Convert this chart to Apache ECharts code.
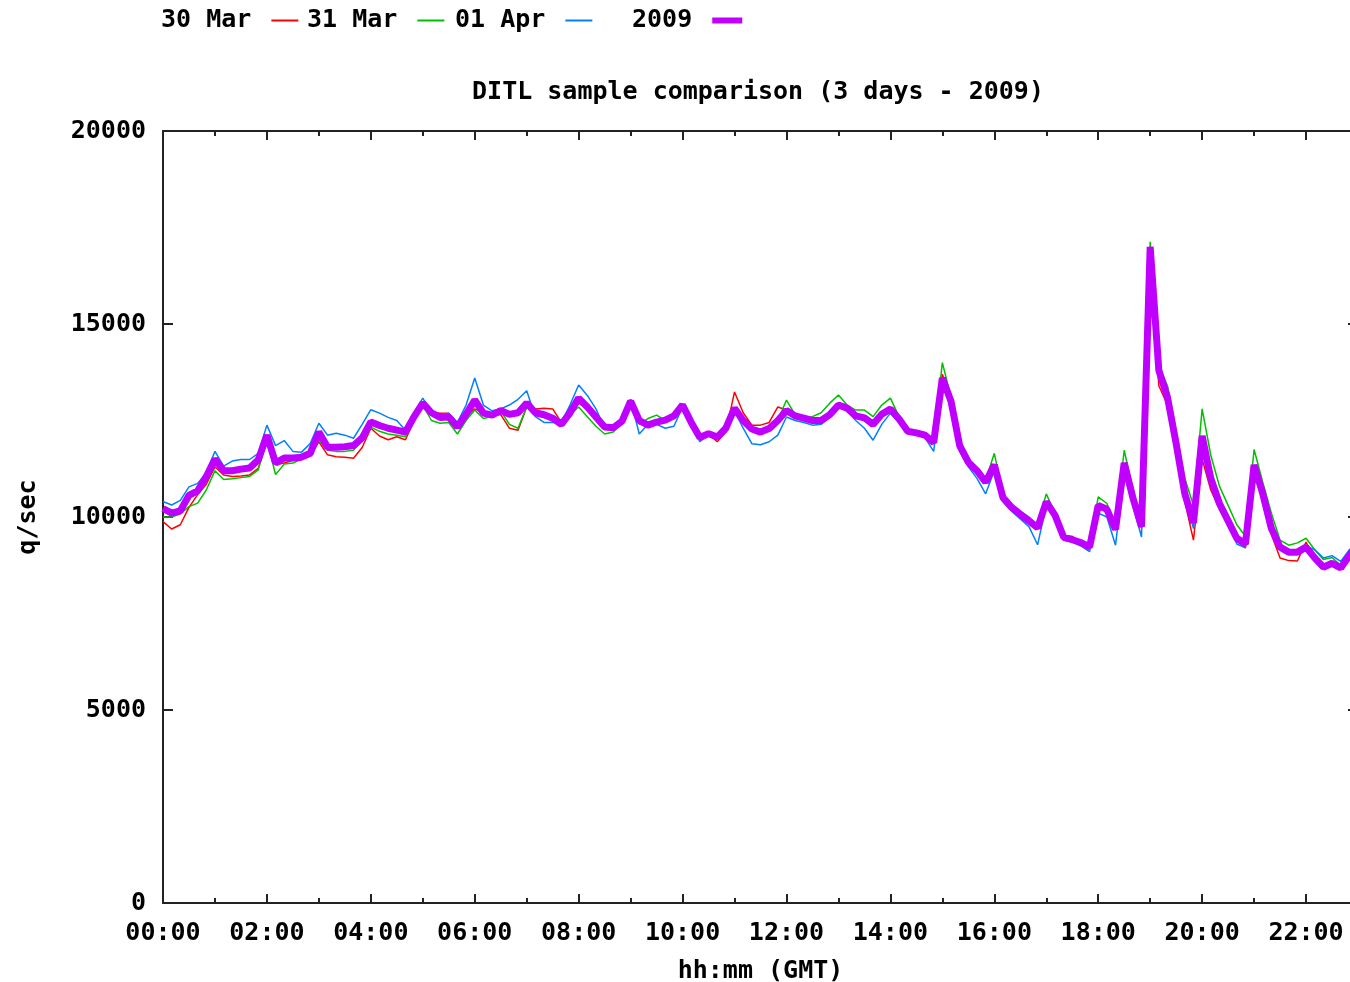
<!DOCTYPE html>
<html>
<head>
<meta charset="utf-8">
<title>DITL sample comparison</title>
<script src="https://cdn.jsdelivr.net/npm/echarts@6.0.0/dist/echarts.min.js"></script>
<style>
  html, body { margin: 0; padding: 0; background: #ffffff; }
  #chart { width: 1350px; height: 982px; }
</style>
</head>
<body>
<div id="chart"></div>
<script>
// Sampling grid: one sample every 10 minutes starting at 00:00 GMT
const SAMPLE_STEP_MIN = 10;
const SAMPLE_COUNT = 139;

// Query rate (q/sec) per sample, one array per day
const day30Mar = [
  9880, 9690, 9800, 10250, 10580, 10850, 11300, 11090, 11050, 11060,
  11090, 11260, 11990, 11350, 11400, 11470, 11510, 11600, 11950, 11610,
  11560, 11550, 11520, 11800, 12300, 12100, 12000, 12080, 12000, 12500,
  12950, 12720, 12690, 12690, 12400, 12600, 12800, 12700, 12650, 12650,
  12300, 12250, 12850, 12800, 12820, 12800, 12450, 12700, 12950, 12800,
  12550, 12300, 12300, 12450, 13050, 12450, 12400, 12500, 12550, 12650,
  12900, 12450, 12000, 12150, 11950, 12200, 13240, 12700, 12380, 12380,
  12450, 12850, 12770, 12600, 12550, 12500, 12550, 12700, 12950, 12800,
  12600, 12600, 12450, 12700, 12850, 12550, 12200, 12180, 12100, 11900,
  13700, 13000, 11850, 11450, 11250, 11000, 11300, 10500, 10250, 10070,
  9900, 9700, 10380, 10050, 9500, 9500, 9350, 9200, 10300, 10150,
  9650, 11300, 10400, 9700, 16900, 13400, 12900, 11800, 10400, 9400,
  11500, 10700, 10200, 9800, 9400, 9200, 11300, 10500, 9550, 8940,
  8870, 8860, 9350, 8900, 8700, 8800, 8700, 9000, 9300
];

const day31Mar = [
  10000, 10000, 10080, 10270, 10360, 10700, 11200, 10970, 10990, 11020,
  11050, 11220, 11990, 11100, 11370, 11400, 11500, 11600, 11990, 11730,
  11700, 11700, 11730, 12000, 12330, 12220, 12150, 12120, 12080, 12500,
  12900, 12500, 12430, 12450, 12150, 12500, 12770, 12550, 12600, 12750,
  12400, 12300, 12850, 12650, 12600, 12500, 12350, 12650, 12850, 12600,
  12350, 12150, 12200, 12450, 13000, 12400, 12550, 12640, 12500, 12600,
  12900, 12500, 12050, 12200, 12100, 12300, 12700, 12450, 12300, 12250,
  12300, 12500, 13030, 12650, 12550, 12600, 12700, 12950, 13160, 12900,
  12770, 12770, 12600, 12900, 13080, 12600, 12250, 12180, 12100, 11950,
  14000, 13100, 11900, 11450, 11250, 10950, 11650, 10600, 10300, 10150,
  10000, 9800, 10600, 10100, 9550, 9450, 9400, 9250, 10520, 10350,
  9800, 11730, 10700, 9900, 17130, 13900, 13400, 12200, 11000, 10300,
  12800, 11600, 10800, 10300, 9800, 9500, 11750, 10900, 10100, 9400,
  9270, 9330, 9450, 9150, 8900, 8950, 8750, 9100, 9350
];

const day01Apr = [
  10400, 10310, 10430, 10780, 10870, 11150, 11700, 11320, 11450, 11490,
  11490, 11650, 12380, 11850, 11980, 11700, 11680, 11900, 12430, 12120,
  12170, 12120, 12040, 12400, 12780, 12690, 12580, 12500, 12250, 12700,
  13080, 12700, 12650, 12690, 12450, 12900, 13600, 12900, 12750, 12800,
  12900, 13050, 13270, 12600, 12450, 12450, 12450, 12900, 13420, 13150,
  12800, 12300, 12250, 12500, 13050, 12150, 12400, 12400, 12300, 12350,
  12850, 12350, 11950, 12150, 12100, 12250, 12750, 12300, 11900, 11870,
  11950, 12120, 12590, 12500, 12450, 12380, 12400, 12600, 12900, 12750,
  12500, 12300, 11990, 12400, 12690, 12450, 12200, 12150, 12050, 11700,
  13500, 12800, 11700, 11300, 11000, 10600, 11200, 10400, 10150, 9950,
  9750, 9280, 10300, 9950, 9400, 9350, 9250, 9100, 10100, 10000,
  9270, 11200, 10300, 9480, 16900, 13700, 13000, 11900, 10600, 9700,
  12000, 10900, 10300, 9850, 9300, 9200, 11300, 10600, 9700, 9200,
  9100, 9100, 9250, 9150, 8940, 9000, 8850, 9150, 9350
];

const year2009 = [
  10220, 10100, 10160, 10560, 10680, 11050, 11500, 11200, 11200, 11240,
  11270, 11480, 12120, 11400, 11530, 11530, 11550, 11650, 12200, 11810,
  11810, 11820, 11850, 12050, 12460, 12370, 12300, 12250, 12200, 12600,
  12950, 12700, 12580, 12590, 12330, 12660, 13030, 12690, 12640, 12760,
  12660, 12700, 12950, 12700, 12650, 12560, 12400, 12700, 13080, 12850,
  12590, 12330, 12310, 12480, 13000, 12500, 12380, 12460, 12510, 12620,
  12900, 12450, 12060, 12160, 12070, 12300, 12820, 12500, 12280, 12200,
  12290, 12500, 12760, 12620, 12560, 12500, 12500, 12650, 12900, 12820,
  12620, 12570, 12400, 12660, 12800, 12540, 12220, 12180, 12120, 11930,
  13600, 13000, 11850, 11420, 11200, 10900, 11350, 10500, 10250, 10070,
  9900, 9720, 10390, 10050, 9480, 9410, 9340, 9220, 10300, 10200,
  9680, 11400, 10500, 9750, 17000, 13800, 13100, 11900, 10600, 9850,
  12100, 11000, 10350, 9900, 9450, 9300, 11350, 10600, 9700, 9220,
  9090, 9090, 9220, 8940, 8700, 8800, 8680, 9000, 9300
];

// Legend names and line colours
const seriesNames = ['30 Mar', '31 Mar', '01 Apr', '2009'];
const seriesColors = ['#ff0000', '#00c000', '#0080ff', '#c000ff'];

// Axis settings (x in minutes after 00:00 GMT)
const yTicks = { min: 0, max: 20000, interval: 5000 };
const xRangeMin = { min: 0, max: 1380, interval: 120 };

const sampleMinutes = [];
for (let i = 0; i < SAMPLE_COUNT; i++) sampleMinutes.push(i * SAMPLE_STEP_MIN);

function pair(values) {
  return values.map((v, i) => [sampleMinutes[i], v]);
}

function hhmm(min) {
  const h = Math.floor(min / 60), m = min % 60;
  return String(h).padStart(2, '0') + ':' + String(m).padStart(2, '0');
}

const FONT = 'DejaVu Sans Mono';
const txt = { fontFamily: FONT, fontWeight: 'bold', fontSize: 25, color: '#000' };
const axisLine = { show: true, onZero: false, lineStyle: { color: '#222', width: 2 } };
const tickStyle = { color: '#222', width: 2 };

const chart = echarts.init(document.getElementById('chart'), null, { renderer: 'canvas' });

function legendAt(name, left, iconW, iconH) {
  return {
    left: left, top: 8,
    data: [{ name: name, icon: 'rect' }],
    align: 'right',
    itemWidth: iconW, itemHeight: iconH,
    itemGap: 0,
    padding: 0,
    formatter: n => n + ' ',
    textStyle: Object.assign({}, txt),
    selectedMode: false
  };
}

const option = {
  animation: false,
  backgroundColor: '#ffffff',
  title: {
    text: 'DITL sample comparison (3 days - 2009)',
    left: 758, top: 80, textAlign: 'center', padding: 0,
    textStyle: Object.assign({}, txt)
  },
  legend: [
    legendAt(seriesNames[0], 161, 27, 2),
    legendAt(seriesNames[1], 307, 27, 2),
    legendAt(seriesNames[2], 455, 27, 2),
    legendAt(seriesNames[3], 632, 30, 6)
  ],
  grid: {
    left: 163, top: 131, width: 1195, height: 772,
    containLabel: false, outerBoundsMode: 'none'
  },
  xAxis: [
    {
      type: 'value', position: 'bottom',
      min: xRangeMin.min, max: xRangeMin.max, interval: xRangeMin.interval,
      axisLine: axisLine,
      axisTick: { show: true, inside: true, length: 9, lineStyle: tickStyle },
      minorTick: { show: true, splitNumber: 2, length: 5, lineStyle: tickStyle },
      splitLine: { show: false },
      axisLabel: Object.assign({ margin: 18, formatter: v => hhmm(v) }, txt),
      name: 'hh:mm (GMT)', nameLocation: 'middle', nameGap: 56,
      nameTextStyle: Object.assign({}, txt)
    },
    {
      type: 'value', position: 'top',
      min: xRangeMin.min, max: xRangeMin.max, interval: xRangeMin.interval,
      axisLine: axisLine,
      axisTick: { show: true, inside: true, length: 9, lineStyle: tickStyle },
      minorTick: { show: true, splitNumber: 2, length: 5, lineStyle: tickStyle },
      splitLine: { show: false },
      axisLabel: { show: false }
    }
  ],
  yAxis: [
    {
      type: 'value', position: 'left',
      min: yTicks.min, max: yTicks.max, interval: yTicks.interval,
      axisLine: axisLine,
      axisTick: { show: true, inside: true, length: 10, lineStyle: tickStyle },
      splitLine: { show: false },
      axisLabel: Object.assign({ margin: 17, formatter: v => String(v) }, txt),
      name: 'q/sec', nameLocation: 'middle', nameRotate: 90, nameGap: 122,
      nameTextStyle: Object.assign({}, txt)
    },
    {
      type: 'value', position: 'right',
      min: yTicks.min, max: yTicks.max, interval: yTicks.interval,
      axisLine: axisLine,
      axisTick: { show: true, inside: true, length: 10, lineStyle: tickStyle },
      splitLine: { show: false },
      axisLabel: { show: false }
    }
  ],
  series: [day30Mar, day31Mar, day01Apr, year2009].map((vals, i) => ({
    name: seriesNames[i],
    type: 'line',
    xAxisIndex: 0, yAxisIndex: 0,
    data: pair(vals),
    showSymbol: false,
    symbol: 'none',
    clip: true,
    color: seriesColors[i],
    itemStyle: { color: seriesColors[i] },
    lineStyle: { color: seriesColors[i], width: i === 3 ? 7 : 1.5 },
    z: 2 + i
  }))
};

chart.setOption(option);
</script>
</body>
</html>
